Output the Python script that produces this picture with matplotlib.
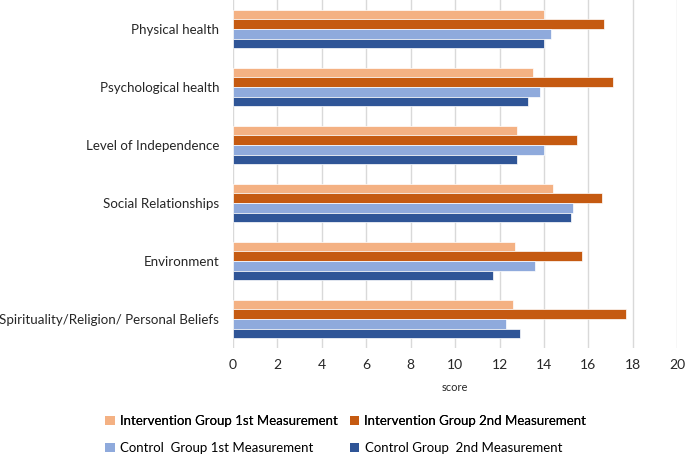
import matplotlib
matplotlib.use("Agg")
import matplotlib.pyplot as plt
import numpy as np
from matplotlib.patches import Patch

plt.rcParams['font.family'] = ['Lato', 'DejaVu Sans']

categories = ["Physical health", "Psychological health", "Level of Independence",
              "Social Relationships", "Environment",
              "Spirituality/Religion/ Personal Beliefs"]
series_names = ["Intervention Group 1st Measurement", "Intervention Group 2nd Measurement",
                "Control  Group 1st Measurement", "Control Group  2nd Measurement"]
ig1 = [14.0, 13.5, 12.8, 14.4, 12.7, 12.6]
ig2 = [16.7, 17.1, 15.5, 16.6, 15.7, 17.7]
cg1 = [14.3, 13.8, 14.0, 15.3, 13.6, 12.3]
cg2 = [14.0, 13.3, 12.8, 15.2, 11.7, 12.9]
xticks = [0, 2, 4, 6, 8, 10, 12, 14, 16, 18, 20]
colors = ["#F4B183", "#C55A11", "#8FAADC", "#2F5597"]

fig = plt.figure(figsize=(6.85, 4.58), dpi=100)
ax = fig.add_axes([233/685, 1-348/458, (677.3-233)/685, 348/458])

y = np.arange(len(categories))
bh = 0.164
series = [ig1, ig2, cg1, cg2]
for i, (vals, c) in enumerate(zip(series, colors)):
    ax.barh(y + (i - 1.5) * bh, vals, height=bh, color=c, edgecolor="white",
            linewidth=0.5, zorder=3)

ax.set_ylim(len(categories) - 0.5, -0.5)
ax.set_xlim(0, 20)
ax.set_xticks(xticks)
ax.set_yticks(y)
ax.set_yticklabels(categories, fontsize=9.6, color="#262626")
ax.tick_params(axis='x', labelsize=10, colors="#262626", length=0, pad=8)
ax.tick_params(axis='y', length=0, pad=10)
ax.grid(axis='x', color="#D9D9D9", linewidth=1, zorder=0)
for s in ax.spines.values():
    s.set_visible(False)
ax.set_xlabel("score", fontsize=8, color="#262626", labelpad=8)

h = [Patch(facecolor=c) for c in colors]
leg1 = fig.legend(h[:2], series_names[:2], loc='center left',
                  bbox_to_anchor=(100/685, 1-421/458), ncol=2, frameon=False,
                  fontsize=9.5, handlelength=0.7, handleheight=0.7,
                  handletextpad=0.4, columnspacing=0.9, borderaxespad=0)
leg2 = fig.legend(h[2:], series_names[2:], loc='center left',
                  bbox_to_anchor=(100/685, 1-448/458), ncol=2, frameon=False,
                  fontsize=9.5, handlelength=0.7, handleheight=0.7,
                  handletextpad=0.4, columnspacing=2.8, borderaxespad=0)
fig.add_artist(leg1)

fig.savefig("out.png", dpi=100)
